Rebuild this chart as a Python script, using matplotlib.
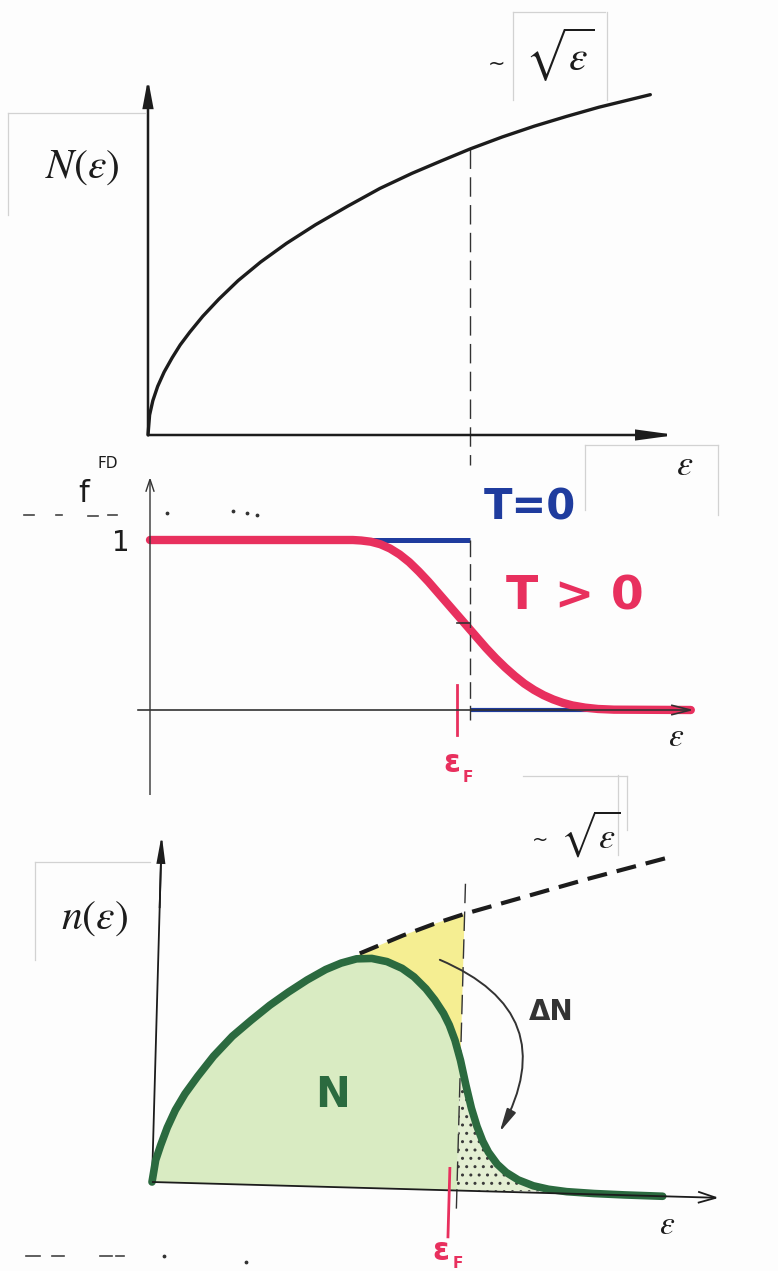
import numpy as np
import matplotlib
matplotlib.use("Agg")
import matplotlib.pyplot as plt
from matplotlib.transforms import Affine2D
from matplotlib.patches import FancyArrowPatch, Polygon

plt.rcParams["mathtext.fontset"] = "stix"

W, H = 778, 1271

# ---------------- data (energies in units of the Fermi energy) ----------------
eps_F = 1.0

# number of states N(eps) ~ sqrt(eps)
eps_N = [0.000, 0.005, 0.015, 0.030, 0.050, 0.075, 0.100, 0.130, 0.170,
         0.220, 0.280, 0.350, 0.430, 0.520, 0.620, 0.720, 0.820, 0.910,
         1.000, 1.100, 1.200, 1.300, 1.400, 1.480, 1.560]
N_vals = [0.000, 0.070, 0.120, 0.170, 0.220, 0.270, 0.315, 0.360, 0.415,
          0.475, 0.540, 0.605, 0.670, 0.735, 0.800, 0.862, 0.915, 0.958,
          1.000, 1.042, 1.080, 1.114, 1.146, 1.168, 1.190]

# Fermi-Dirac occupation for T > 0
eps_fd = [0.000, 0.634, 0.660, 0.690, 0.720, 0.750, 0.780, 0.810, 0.840,
          0.870, 0.900, 0.930, 0.960, 0.990, 1.020, 1.050, 1.080, 1.110,
          1.140, 1.170, 1.200, 1.230, 1.260, 1.290, 1.320, 1.360, 1.400,
          1.450, 1.690]
f_T = [1.000, 1.000, 0.997, 0.990, 0.975, 0.950, 0.915, 0.870, 0.815,
       0.755, 0.690, 0.625, 0.560, 0.495, 0.430, 0.365, 0.305, 0.250,
       0.200, 0.155, 0.118, 0.087, 0.062, 0.042, 0.027, 0.014, 0.006,
       0.002, 0.000]

# step occupation for T = 0
eps_T0_full = [0.0, eps_F]
f_T0_full = [1.0, 1.0]
eps_T0_empty = [eps_F, 1.60]
f_T0_empty = [0.0, 0.0]

# occupied states n(eps) = N(eps) f(eps)
eps_n = [0.000, 0.010, 0.025, 0.045, 0.070, 0.100, 0.140, 0.190, 0.250,
         0.310, 0.370, 0.430, 0.490, 0.550, 0.600, 0.650, 0.700, 0.750,
         0.800, 0.840, 0.880, 0.910, 0.940, 0.960, 0.980, 1.000, 1.020,
         1.040, 1.060, 1.080, 1.100, 1.130, 1.160, 1.200, 1.250, 1.300,
         1.360, 1.450, 1.550, 1.675]
n_vals = [0.000, 0.080, 0.135, 0.200, 0.265, 0.325, 0.390, 0.465, 0.540,
          0.600, 0.657, 0.707, 0.753, 0.793, 0.818, 0.835, 0.838, 0.828,
          0.805, 0.775, 0.733, 0.693, 0.645, 0.603, 0.548, 0.475, 0.385,
          0.302, 0.236, 0.183, 0.143, 0.100, 0.071, 0.045, 0.025, 0.014,
          0.007, 0.003, 0.001, 0.000]

# sqrt(eps) envelope continued beyond the peak
eps_sq = [0.66, 0.80, 0.90, 1.00, 1.20, 1.40, 1.658]
n_sq = [0.855, 0.925, 0.97, 1.01, 1.08, 1.15, 1.235]

# ---------------- figure ----------------
fig = plt.figure(figsize=(W / 100, H / 100), dpi=100)
fig.patch.set_facecolor("#fdfdfd")

INK = "#1c1c1c"
RED = "#e8305e"
BLUE = "#1f3c9e"
GREEN = "#2b6a3f"


def panel(x0, xs, y0, ys):
    ax = fig.add_axes([0, 0, 1, 1])
    ax.set_xlim(-x0 / xs, (W - x0) / xs)
    ax.set_ylim((y0 - H) / ys, y0 / ys)
    ax.axis("off")
    return ax


def arrow(ax, p0, p1, style, lw, color=INK, transform=None):
    ax.add_patch(FancyArrowPatch(p0, p1, arrowstyle=style, lw=lw, color=color,
                                 shrinkA=0, shrinkB=0, mutation_scale=1,
                                 transform=transform or ax.transData,
                                 joinstyle="miter", capstyle="butt", zorder=5))


# ---- panel 1: N(eps)
ax1 = panel(148, 322, 435, 286)
arrow(ax1, (0, 0), (0, 1.245), "-|>,head_length=16,head_width=3", 1.8)
arrow(ax1, (0, 0), (1.64, 0), "-|>,head_length=22,head_width=3", 1.8)
ax1.plot(eps_N, N_vals, color=INK, lw=2.4, solid_capstyle="round",
         solid_joinstyle="round", zorder=4)
ax1.plot([eps_F, eps_F], [np.interp(eps_F, eps_N, N_vals), -0.105],
         color="#333333", lw=1.0, ls=(0, (14, 6)))

# ---- panel 2: Fermi-Dirac distribution
ax2 = panel(150, 320, 710, 170)
arrow(ax2, (0, -0.5), (0, 1.37), "->,head_length=9,head_width=3", 1.0, "#333333")
arrow(ax2, (-0.04, 0), (1.70, 0), "->,head_length=14,head_width=3.5", 1.2, "#333333")
ax2.plot(eps_T0_full, f_T0_full, color=BLUE, lw=3.6, solid_capstyle="butt", zorder=2)
ax2.plot(eps_T0_empty, f_T0_empty, color=BLUE, lw=3.0, solid_capstyle="butt", zorder=2)
ax2.plot(eps_fd, f_T, color=RED, lw=6.0, solid_capstyle="round",
         solid_joinstyle="round", zorder=3)
ax2.plot([eps_F, eps_F], [1.0, -0.06], color="#333333", lw=1.0,
         ls=(0, (12, 5)), zorder=4)
ax2.plot([eps_F - 0.04, eps_F], [0.51, 0.51], color="#333333", lw=1.2, zorder=4)
ax2.plot([eps_F - 0.041, eps_F - 0.041], [0.147, -0.147], color=RED, lw=2.0, zorder=4)

# ---- panel 3: occupied states n(eps), drawn slightly tilted like the sketch
ax3 = panel(152, 305, 1182, 274)
T3 = ax3.transData + Affine2D().rotate_deg_around(152, H - 1182, -1.6)

sel = [i for i, e in enumerate(eps_n) if e <= eps_F + 1e-9]
fill_pts = [(eps_n[i], n_vals[i]) for i in sel] + [(eps_F, 0.0)]
ax3.add_patch(Polygon(fill_pts, closed=True, facecolor="#d9ebc2", edgecolor="none",
                      transform=T3, zorder=1))

top = [(e, v) for e, v in zip(eps_sq, n_sq) if e <= eps_F + 1e-9]
low = [(e, v) for e, v in zip(eps_n, n_vals) if 0.65 <= e <= eps_F + 1e-9][::-1]
ax3.add_patch(Polygon(top + low, closed=True, facecolor="#f4ec80", edgecolor="none",
                      alpha=0.85, transform=T3, zorder=1))

tail = [(e, v) for e, v in zip(eps_n, n_vals) if eps_F - 1e-9 <= e <= 1.41]
ax3.add_patch(Polygon(tail + [(eps_F, 0.0)], closed=True,
                      facecolor="#e4efd3", edgecolor="#3a3a3a", hatch="..", lw=0,
                      transform=T3, zorder=1))

ax3.plot([0, 0], [0, 1.20], color=INK, lw=1.3, transform=T3, zorder=3)
arrow(ax3, (0, 1.0), (0, 1.267), "-|>,head_length=16,head_width=2.5", 1.3, transform=T3)
arrow(ax3, (0, 0), (1.86, 0), "->,head_length=13,head_width=4", 1.3, transform=T3)
ax3.plot(eps_sq, n_sq, color=INK, lw=3.0, ls=(0, (4.8, 2.4)), transform=T3, zorder=4)
ax3.plot([eps_F, eps_F], [1.12, -0.09], color="#333333", lw=1.0, ls=(0, (14, 6)),
         transform=T3, zorder=2)
ax3.plot(eps_n, n_vals, color=GREEN, lw=5.5, solid_capstyle="round",
         solid_joinstyle="round", transform=T3, zorder=4)
ax3.plot([0.975, 0.975], [0.08, -0.17], color=RED, lw=2.0, transform=T3, zorder=5)
ax3.add_patch(FancyArrowPatch((0.923, 0.84), (1.135, 0.218),
                              connectionstyle="arc3,rad=-0.55",
                              arrowstyle="-|>,head_length=14,head_width=3",
                              mutation_scale=1, lw=1.4, color="#333333",
                              shrinkA=0, shrinkB=0, transform=T3, zorder=5))

# ---------------- labels and paper marks (pixel overlay) ----------------
ov = fig.add_axes([0, 0, 1, 1])
ov.set_xlim(0, W)
ov.set_ylim(H, 0)
ov.axis("off")


def label(x, y, s, size, color=INK, weight="normal"):
    ov.text(x, y, s, ha="center", va="center", fontsize=size, color=color,
            fontweight=weight)


# panel 1
label(82, 166, r"$N(\varepsilon)$", 30)
label(497, 64, "~", 15)
label(560, 55, r"$\sqrt{\varepsilon}$", 30)
label(685, 465, r"$\varepsilon$", 26)

# panel 2
label(84, 494, "f", 22)
label(108, 463, "FD", 11)
label(121, 543, "1", 20)
label(530, 508, "T=0", 30, BLUE, "bold")
label(575, 597, "T > 0", 34, RED, "bold")
label(676, 736, r"$\varepsilon$", 24)
label(452, 764, "ε", 22, RED, "bold")
label(468, 777, "F", 11, RED, "bold")

# panel 3
label(95, 917, r"$n(\varepsilon)$", 30)
label(540, 840, "~", 14)
label(590, 834, r"$\sqrt{\varepsilon}$", 26)
label(333, 1095, "N", 30, GREEN, "bold")
label(551, 1012, "ΔN", 20, "#333333", "bold")
label(667, 1224, r"$\varepsilon$", 24)
label(441, 1251, "ε", 22, RED, "bold")
label(458, 1264, "F", 11, RED, "bold")

# faint edges of pasted label boxes on the sheet
edges = [((8, 113), (145, 113)), ((8, 113), (8, 215)),
         ((513, 12), (605, 12)), ((513, 12), (513, 100)), ((607, 12), (607, 100)),
         ((585, 445), (718, 445)), ((585, 445), (585, 510)), ((718, 445), (718, 515)),
         ((523, 776), (627, 776)), ((627, 776), (627, 830)),
         ((35, 862), (150, 862)), ((35, 862), (35, 960)),
         ((618, 775), (618, 855))]
for (xa, ya), (xb, yb) in edges:
    ov.plot([xa, xb], [ya, yb], color="#d2d2d2", lw=0.9)

# pencil specks
for xa, xb, y in [(24, 34, 515), (56, 62, 515), (88, 98, 516), (108, 117, 515),
                  (26, 40, 1256), (52, 64, 1256), (100, 112, 1256), (116, 124, 1256)]:
    ov.plot([xa, xb], [y, y], color="#444444", lw=1.2)
ov.scatter([167, 233, 247, 257, 164, 246], [513, 511, 513, 515, 1256, 1262],
           s=3, color="#333333")

fig.savefig("out.png", dpi=100, facecolor=fig.get_facecolor())
